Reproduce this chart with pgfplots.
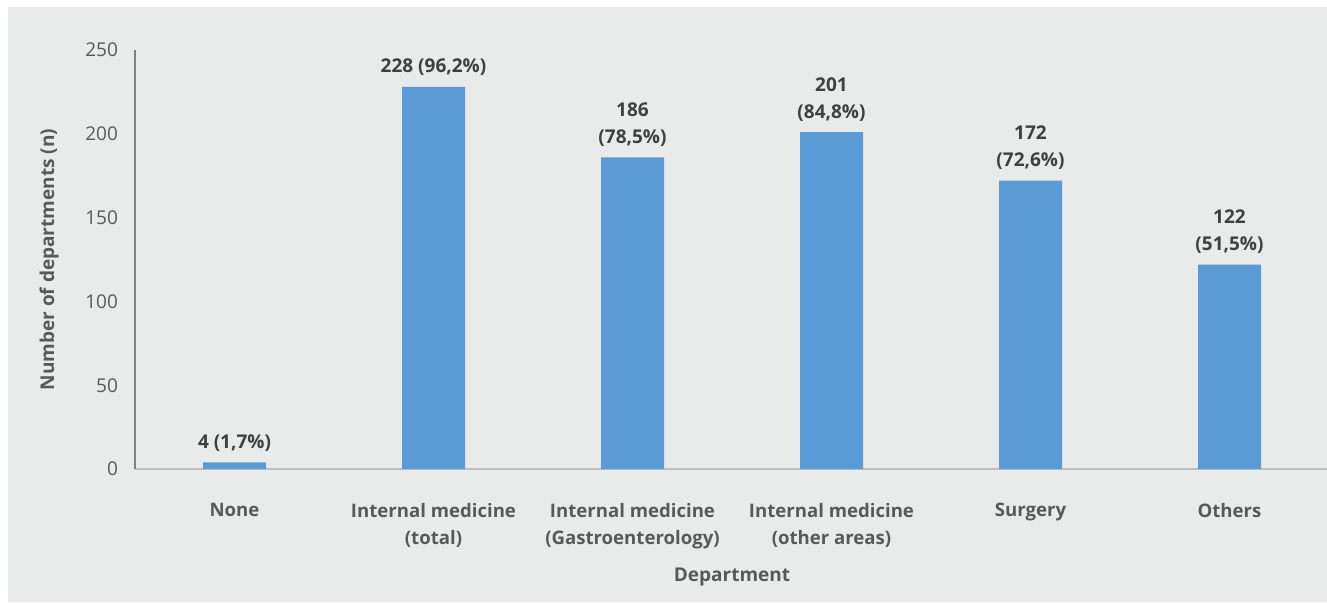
\documentclass[border=0pt]{standalone}
\usepackage{fontspec}
\setmainfont{Open Sans}
\usepackage{pgfplots}
\pgfplotsset{compat=1.18}

\definecolor{bgGray}{HTML}{E9EBEB}
\definecolor{barBlue}{HTML}{5B9BD5}
\definecolor{tickGray}{HTML}{595959}
\definecolor{lblDark}{HTML}{404040}

\begin{document}
\begin{tikzpicture}
% page: 1327 x 602 px at 0.5pt per px
\useasboundingbox (0,0) rectangle (663.5pt,301pt);
\fill[bgGray] (4pt,0) rectangle (663.5pt,297.5pt);

\begin{axis}[
	at={(67.5pt,66.5pt)}, anchor=south west,
	scale only axis,
	width=597pt, height=209.5pt,
	ybar, bar width=31.5pt,
	xmin=-0.5, xmax=5.5,
	ymin=0, ymax=250,
	ytick={0,50,...,250},
	xtick=data,
	xticklabels={None, Internal medicine\\(total), Internal medicine\\(Gastroenterology), Internal medicine\\(other areas), Surgery, Others},
	axis x line*=bottom, axis y line*=left,
	x axis line style={draw=black!25, line width=0.6pt, -},
	y axis line style={draw=black!50, line width=0.6pt, -},
	major tick length=0pt,
	/pgf/number format/assume math mode=true,
	yticklabel style={font=\fontsize{9.5}{11}\selectfont, text=tickGray, xshift=-5pt},
	xticklabel style={font=\fontsize{9.3}{13.5}\selectfont\bfseries, text=tickGray, align=center, yshift=-13.5pt},
	xlabel={Department},
	ylabel={Number of departments (n)},
	xlabel style={font=\fontsize{9.5}{11}\selectfont\bfseries, text=tickGray, yshift=-3pt},
	ylabel style={font=\fontsize{9.5}{11}\selectfont\bfseries, text=tickGray, yshift=6.5pt},
	point meta=explicit symbolic,
	nodes near coords={\pgfplotspointmeta},
	nodes near coords style={font=\fontsize{9.5}{13.5}\selectfont\bfseries, text=lblDark, align=center, anchor=south, yshift=2pt},
]
\addplot[fill=barBlue, draw=none] coordinates {
	(0,4) [4 (1,7\%)]
	(1,228) [228 (96,2\%)]
	(2,186) [{186\\(78,5\%)}]
	(3,201) [{201\\(84,8\%)}]
	(4,172) [{172\\(72,6\%)}]
	(5,122) [{122\\(51,5\%)}]
};
\end{axis}
\end{tikzpicture}
\end{document}
